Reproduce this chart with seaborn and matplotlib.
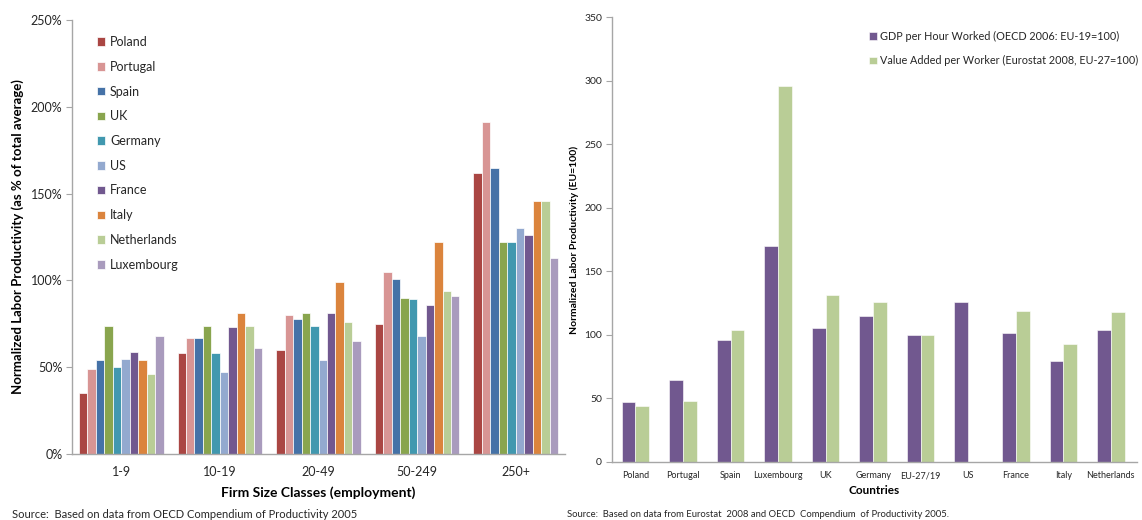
import matplotlib
matplotlib.use("Agg")
import matplotlib.pyplot as plt
from matplotlib.ticker import PercentFormatter
import numpy as np
import pandas as pd
import seaborn as sns

# ---- Left panel: productivity by firm size class ----
size_classes = ["1-9", "10-19", "20-49", "50-249", "250+"]
countries_left = ["Poland", "Portugal", "Spain", "UK", "Germany", "US",
                  "France", "Italy", "Netherlands", "Luxembourg"]
# one list per country, values by size class (percent of total average)
poland      = [35, 58, 60, 75, 162]
portugal    = [49, 67, 80, 105, 191]
spain       = [54, 67, 78, 101, 165]
uk          = [74, 74, 81, 90, 122]
germany     = [50, 58, 74, 89, 122]
us          = [55, 47, 54, 68, 130]
france      = [59, 73, 81, 86, 126]
italy       = [54, 81, 99, 122, 146]
netherlands = [46, 74, 76, 94, 146]
luxembourg  = [68, 61, 65, 91, 113]

left_colors = ["#AA4643", "#D89594", "#4572A7", "#89A54E", "#4198AF",
               "#93A9CF", "#71588F", "#DB843D", "#B9CD96", "#A99BBD"]

# ---- Right panel: country comparison ----
countries_right = ["Poland", "Portugal", "Spain", "Luxembourg", "UK", "Germany",
                   "EU-27/19", "US", "France", "Italy", "Netherlands"]
gdp_per_hour = [47, 64, 96, 170, 105, 115, 100, 126, 101, 79, 104]
value_added_per_worker = [44, 48, 104, 296, 131, 126, 100, np.nan, 119, 93, 118]
series_names = ["GDP per Hour Worked (OECD 2006: EU-19=100)",
                "Value Added per Worker (Eurostat 2008, EU-27=100)"]
right_colors = ["#71588F", "#B9CD96"]

left_table = pd.DataFrame(
    {"Poland": poland, "Portugal": portugal, "Spain": spain, "UK": uk,
     "Germany": germany, "US": us, "France": france, "Italy": italy,
     "Netherlands": netherlands, "Luxembourg": luxembourg},
    index=size_classes)
left_long = (left_table.reset_index(names="size")
             .melt(id_vars="size", var_name="country", value_name="value"))

right_long = pd.DataFrame({
    "country": countries_right * 2,
    "series": [series_names[0]] * len(countries_right)
              + [series_names[1]] * len(countries_right),
    "value": gdp_per_hour + value_added_per_worker,
}).dropna()

sns.set_theme(style="white")
plt.rcParams["font.family"] = ["Lato", "DejaVu Sans"]

W, H = 1142, 520
fig = plt.figure(figsize=(W / 100, H / 100), dpi=100)
axis_grey = "#A6A6A6"
text_col = "#262626"


def px_axes(x0, y_top, x1, y_bottom):
    return fig.add_axes([x0 / W, 1 - y_bottom / H, (x1 - x0) / W, (y_bottom - y_top) / H])


def style_axes(ax):
    for side in ["top", "right"]:
        ax.spines[side].set_visible(False)
    for side in ["left", "bottom"]:
        ax.spines[side].set_color(axis_grey)
        ax.spines[side].set_linewidth(1.0)
    ax.tick_params(axis="y", which="major", length=4, width=0.8, color=axis_grey,
                   left=True, direction="out", pad=3)
    ax.tick_params(axis="x", length=0)
    ax.grid(False)


# Left chart
ax1 = px_axes(72, 20, 565, 454)
sns.barplot(data=left_long, x="size", y="value", hue="country",
            order=size_classes, hue_order=countries_left,
            palette=left_colors, saturation=1, width=0.86,
            edgecolor="white", linewidth=0.5, ax=ax1)
ax1.set_ylim(0, 250)
ax1.set_yticks(np.arange(0, 251, 50))
ax1.yaxis.set_major_formatter(PercentFormatter(decimals=0))
style_axes(ax1)
ax1.tick_params(axis="both", labelsize=9, labelcolor=text_col)
ax1.tick_params(axis="x", pad=9)
ax1.set_xlabel("Firm Size Classes (employment)", fontsize=10, fontweight="bold",
               color="black", va="center")
ax1.xaxis.set_label_coords(0.5, (454 - 493) / 434)
ax1.set_ylabel("Normalized Labor Productivity (as % of total average)", fontsize=9.5,
               fontweight="bold", color="black", va="center")
ax1.yaxis.set_label_coords((18 - 72) / 493, 0.5)
sns.move_legend(ax1, "upper left", bbox_to_anchor=(97 / W, 1 - 36 / H),
                bbox_transform=fig.transFigure, frameon=False, title=None,
                fontsize=9, handlelength=0.65, handleheight=0.65,
                handletextpad=0.4, labelspacing=1.02, borderpad=0,
                borderaxespad=0)

# Right chart
ax2 = px_axes(611.7, 17.3, 1137, 461.7)
sns.barplot(data=right_long, x="country", y="value", hue="series",
            order=countries_right, hue_order=series_names,
            palette=right_colors, saturation=1, width=0.58,
            edgecolor="white", linewidth=0.4, ax=ax2)
ax2.set_ylim(0, 350)
ax2.set_yticks(np.arange(0, 351, 50))
ax2.set_xlim(-0.5, 10.55)
style_axes(ax2)
ax2.tick_params(axis="y", labelsize=7.5, labelcolor=text_col)
ax2.tick_params(axis="x", labelsize=6.5, labelcolor=text_col, pad=7)
ax2.set_xlabel("Countries", fontsize=8.5, fontweight="bold", color="black", va="center")
ax2.xaxis.set_label_coords(0.5, (461.7 - 491) / 444.4)
ax2.set_ylabel("Normalized Labor Productivity (EU=100)", fontsize=7.5,
               fontweight="bold", color="black", va="center")
ax2.yaxis.set_label_coords((574 - 611.7) / 525.3, 0.5)
sns.move_legend(ax2, "upper left", bbox_to_anchor=(869 / W, 1 - 31 / H),
                bbox_transform=fig.transFigure, frameon=False, title=None,
                fontsize=7.8, handlelength=0.7, handleheight=0.7,
                handletextpad=0.3, labelspacing=1.2, borderpad=0,
                borderaxespad=0)

# Source notes
fig.text(12 / W, 1.5 / H, "Source:  Based on data from OECD Compendium of Productivity 2005",
         fontsize=8, color=text_col, ha="left", va="baseline")
fig.text(567 / W, 3 / H,
         "Source:  Based on data from Eurostat  2008 and OECD  Compendium  of Productivity 2005.",
         fontsize=6.8, color=text_col, ha="left", va="baseline")

fig.savefig("out.png", dpi=100)
